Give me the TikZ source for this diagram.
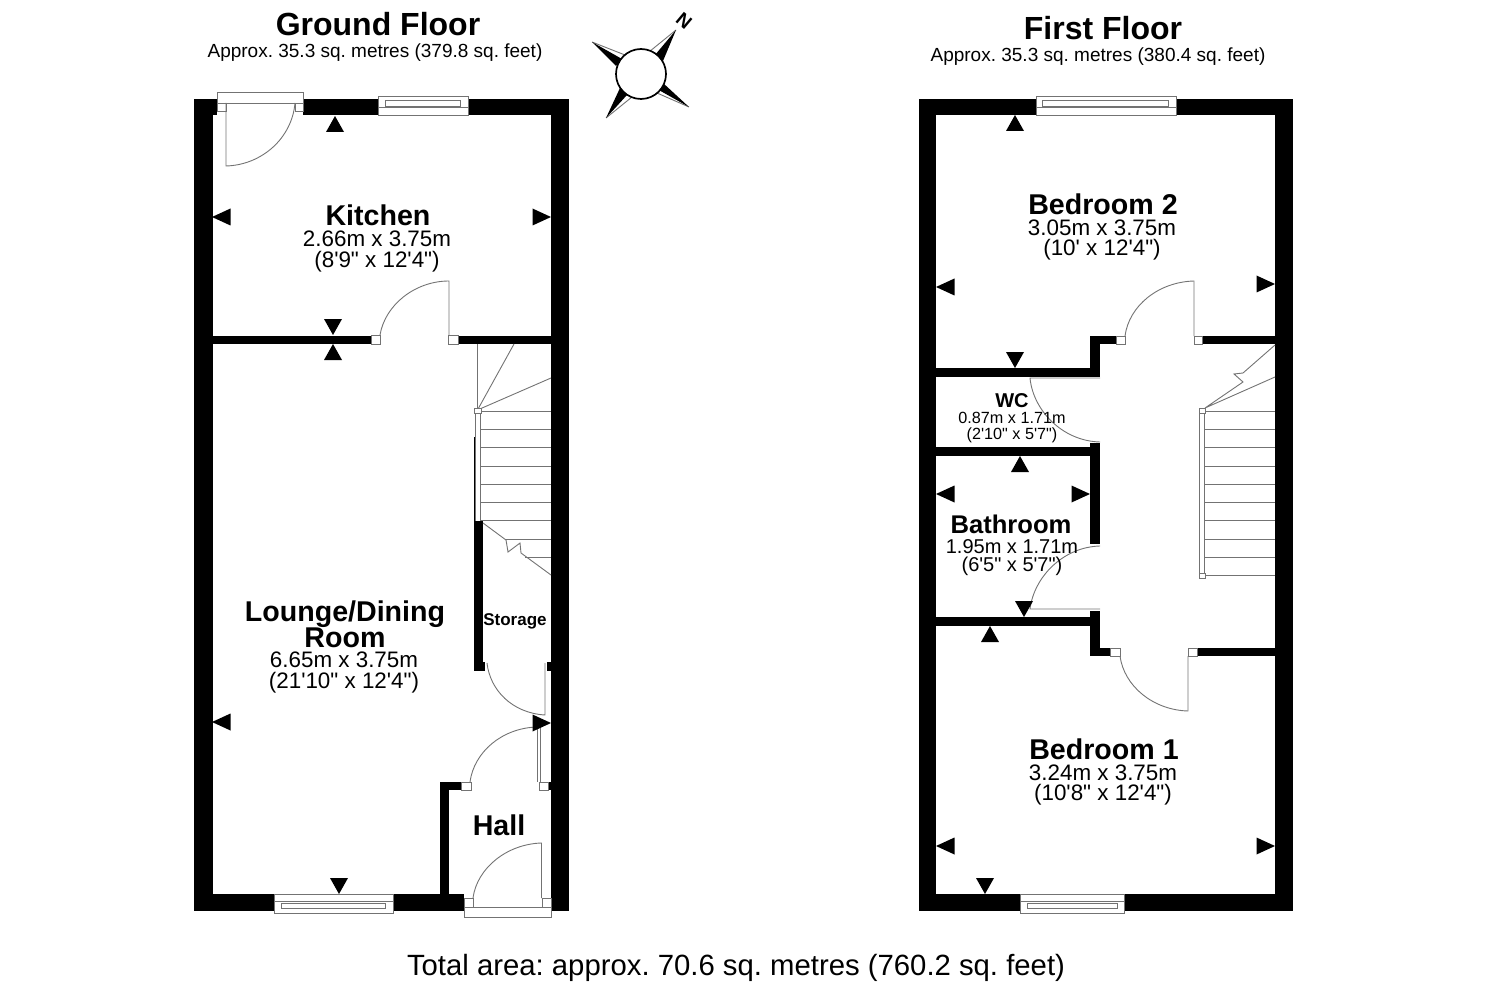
\documentclass[tikz,border=0pt]{standalone}
\usepackage{fontspec}
\newfontfamily\planfont{Liberation Sans}
\newcommand{\planfs}[1]{\planfont\frenchspacing\fontsize{#1}{#1}\selectfont}
\tikzset{
  wall/.style={fill=black},
  thin line/.style={draw=black!55,line width=0.9pt},
  jamb/.style={draw=black!55,fill=white,line width=0.9pt},
  roomname/.style={font=\planfs{28.6}\bfseries,inner sep=0pt},
  roomdim/.style={font=\planfont\fontsize{22.4}{20.5}\selectfont,align=center,inner sep=0pt},
  floorname/.style={font=\planfs{32}\bfseries,inner sep=0pt},
  floorarea/.style={font=\planfs{19},inner sep=0pt}
}
% window in a top wall, and in a bottom wall
\newcommand{\topwindow}[4]{
  \draw[jamb] (#1,96) rectangle (#2,115);
  \draw[thin line] (#1,107.5) -- (#2,107.5);
  \draw[thin line] (#3,100.5) rectangle (#4,106);
}
\newcommand{\botwindow}[4]{
  \draw[jamb] (#1,894) rectangle (#2,913);
  \draw[thin line] (#1,901.5) -- (#2,901.5);
  \draw[thin line] (#3,903) rectangle (#4,908.5);
}
\begin{document}
\begin{tikzpicture}[x=1pt,y=-1pt]
\useasboundingbox (0,0) rectangle (1488,984);
% ground floor walls
\fill[wall] (194,99) rectangle (213,911);
\fill[wall] (213,99) rectangle (217,115);
\fill[wall] (303,99) rectangle (569,115);
\fill[wall] (551,99) rectangle (569,911);
\fill[wall] (194,894) rectangle (464,911);
\fill[wall] (213,335.5) rectangle (371,344);
\fill[wall] (458,335.5) rectangle (551,344);
\fill[wall] (474,521) rectangle (483,671);
\fill[wall] (474,662) rectangle (485,671);
\fill[wall] (547,662) rectangle (551,671);
\fill[wall] (440,782) rectangle (449,894);
\fill[wall] (440,782) rectangle (461,790);
\fill[wall] (548,782) rectangle (551,790);
% first floor walls
\fill[wall] (919,99) rectangle (936,911);
\fill[wall] (919,99) rectangle (1293,115);
\fill[wall] (1275,99) rectangle (1293,911);
\fill[wall] (919,894) rectangle (1293,911);
\fill[wall] (1090,336) rectangle (1116,344);
\fill[wall] (1202,336) rectangle (1275,344);
\fill[wall] (1090,336) rectangle (1100,377);
\fill[wall] (936,368) rectangle (1100,377);
\fill[wall] (936,447) rectangle (1100,456);
\fill[wall] (1090,443) rectangle (1100,544);
\fill[wall] (936,617) rectangle (1100,626);
\fill[wall] (1090,611) rectangle (1100,656);
\fill[wall] (1090,648) rectangle (1110,656);
\fill[wall] (1197,648) rectangle (1275,656);
% windows
\topwindow{378}{468}{385}{460}
\topwindow{1036}{1176}{1042}{1168}
\botwindow{274}{393}{281}{385}
\botwindow{1020}{1124}{1027}{1117}
% ground floor doors
\draw[jamb] (217,92) rectangle (303,103);
\draw[jamb] (217,103) rectangle (226,111);
\draw[jamb] (295,103) rectangle (303,111);
\draw[thin line] (226,103) -- (226,166) .. controls (262,165) and (292,138) .. (295,103);
\draw[jamb] (371,335.5) rectangle (380,344);
\draw[jamb] (448,335.5) rectangle (458,344);
\draw[thin line] (380,335) .. controls (385,305) and (415,281) .. (449,281) -- (449,335);
\draw[thin line] (487,663) .. controls (490,690) and (512,713) .. (545,715) -- (545,663);
\draw[jamb] (461,782) rectangle (471,790);
\draw[jamb] (539,782) rectangle (548,790);
\draw[thin line] (470,782) .. controls (474,752) and (502,728) .. (537,727);
\draw[thin line] (537.5,727) -- (537.5,782) (540,727) -- (540,782);
\draw[jamb] (464,907) rectangle (551,917);
\draw[jamb] (464,898) rectangle (473,907);
\draw[jamb] (542,898) rectangle (551,907);
\draw[thin line] (473,898) .. controls (477,868) and (507,844) .. (541.5,843) -- (541.5,898);
% ground floor stairs
\draw[thin line] (477.5,344) -- (477.5,408);
\draw[thin line] (514,344) -- (477.5,410) -- (551,378);
\foreach \sy in {411,429,447,466,484,502,520}
  \draw[thin line] (480,\sy) -- (551,\sy);
\draw[thin line] (475,413) -- (475,521) (480,413) -- (480,521);
\draw[black,line width=1.2pt] (474.6,437) -- (474.6,521);
\draw[thin line] (483,523) -- (506,540) -- (508,552) -- (520,543) -- (521,553) -- (551,575);
\draw[thin line] (505,539) -- (551,539) (525,557) -- (551,557);
\draw[jamb] (474.5,408) rectangle (481,413);
% first floor doors
\draw[jamb] (1116,336) rectangle (1125,344);
\draw[jamb] (1194,336) rectangle (1202,344);
\draw[thin line] (1125,336) .. controls (1129,306) and (1158,282) .. (1194,281) -- (1194,336);
\draw[thin line] (1100,378) -- (1030,378) .. controls (1033,410) and (1062,441) .. (1100,442);
\draw[thin line] (1100,546) .. controls (1063,547) and (1034,577) .. (1030,609) -- (1100,609);
\draw[jamb] (1110,648) rectangle (1120,656);
\draw[jamb] (1188,648) rectangle (1197,656);
\draw[thin line] (1120,656) .. controls (1124,686) and (1153,710) .. (1188,711) -- (1188,656);
% first floor stairs
\draw[thin line] (1275,345) -- (1243,373) -- (1234,374) -- (1243,382) -- (1205,408) -- (1275,377);
\foreach \sy in {411,429,447,466,484,502,520,539,557,575}
  \draw[thin line] (1204,\sy) -- (1275,\sy);
\draw[thin line] (1199.5,413) -- (1199.5,573) (1204,413) -- (1204,573);
\draw[jamb] (1199,408) rectangle (1205,413);
\draw[jamb] (1199,573) rectangle (1205,578);
% markers
\foreach \mx/\my in {335/116,333/344,1015/115,1020/456,990/626}
  \fill (\mx,\my) -- ++(9,16) -- ++(-18,0) -- cycle;
\foreach \mx/\my in {333/335,339/894,1015/368,1024/617,985/894}
  \fill (\mx,\my) -- ++(9,-16) -- ++(-18,0) -- cycle;
\foreach \mx/\my in {212/217,212/722,936/287,936/494,936/846}
  \fill (\mx,\my) -- ++(18.5,-8.5) -- ++(0,17) -- cycle;
\foreach \mx/\my in {551/217,551/723,1275/284,1090/494,1275/846}
  \fill (\mx,\my) -- ++(-18.5,-8.5) -- ++(0,17) -- cycle;
% compass
\draw[thin line] (676,30) -- (649.3,51.7) (689,107) -- (657,93) (606,118) -- (632,97) (592,42) -- (625,55);
\fill (676,30) -- (655,55) -- (663,61) -- cycle;
\fill (689,107) -- (663,83) -- (657,89) -- cycle;
\fill (606,118) -- (620,88) -- (627,95) -- cycle;
\fill (592,42) -- (616,66) -- (622,59) -- cycle;
\draw[fill=white,line width=1.7pt] (641,74) circle (25);
\node[font=\planfs{19}\bfseries,rotate=-40,inner sep=0pt] (northmark) at (684,21) {N};
% labels
\node[floorname] (groundname) at (378,24) {Ground Floor};
\node[floorarea] (groundarea) at (375,53) {Approx. 35.3 sq. metres (379.8 sq. feet)};
\node[floorname] (firstname) at (1103,28) {First Floor};
\node[floorarea] (firstarea) at (1098,57) {Approx. 35.3 sq. metres (380.4 sq. feet)};
\node[font=\planfs{29.3},inner sep=0pt] (totalarea) at (736,968) {Total area: approx. 70.6 sq. metres (760.2 sq. feet)};
\node[roomname] (kitchen) at (378,215) {Kitchen};
\node[roomdim] (kitchendim) at (377,251.5) {2.66m x 3.75m\\(8'9" x 12'4")};
\node[roomname,align=center,font=\planfont\bfseries\fontsize{28.6}{26}\selectfont] (lounge) at (345,624) {Lounge/Dining\\Room};
\node[roomdim] (loungedim) at (344,672.5) {6.65m x 3.75m\\(21'10" x 12'4")};
\node[font=\planfs{17}\bfseries,inner sep=0pt] (storage) at (515,621) {Storage};
\node[roomname] (hall) at (499,825) {Hall};
\node[roomname] (bedtwo) at (1103,204) {Bedroom 2};
\node[roomdim] (bedtwodim) at (1102,240) {3.05m x 3.75m\\(10' x 12'4")};
\node[font=\planfs{20}\bfseries,inner sep=0pt] (wc) at (1012,401) {WC};
\node[font=\planfont\fontsize{16.2}{16}\selectfont,align=center,inner sep=0pt] (wcdim) at (1012,428) {0.87m x 1.71m\\(2'10" x 5'7")};
\node[font=\planfs{25.6}\bfseries,inner sep=0pt] (bathroom) at (1011,524) {Bathroom};
\node[font=\planfont\fontsize{20}{18.5}\selectfont,align=center,inner sep=0pt] (bathroomdim) at (1012,557.5) {1.95m x 1.71m\\(6'5" x 5'7")};
\node[roomname] (bedone) at (1104,749) {Bedroom 1};
\node[roomdim] (bedonedim) at (1103,785) {3.24m x 3.75m\\(10'8" x 12'4")};
\end{tikzpicture}
\end{document}
